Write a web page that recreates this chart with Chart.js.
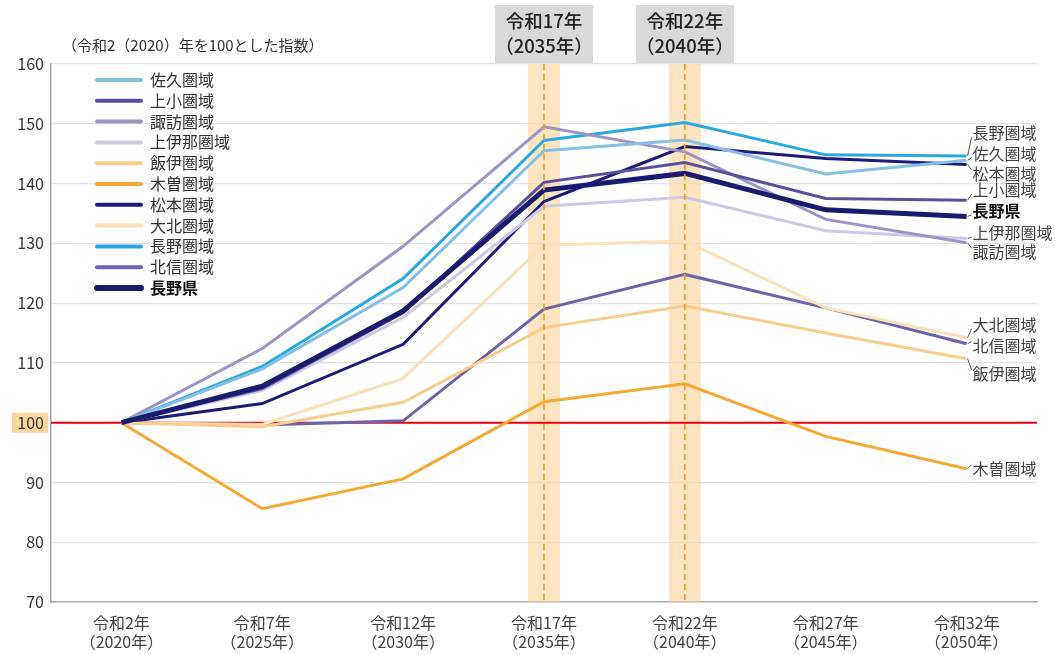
<!DOCTYPE html>
<html>
<head>
<meta charset="utf-8">
<script src="https://cdn.jsdelivr.net/npm/chart.js@4.4.1/dist/chart.umd.min.js"></script>
<style>
  html, body { margin: 0; padding: 0; background: #fff; }
  #wrap { width: 1055px; height: 655px; position: relative; }
</style>
</head>
<body>
<div id="wrap"><canvas id="c" width="1055" height="655"></canvas></div>
<script>
// ---- data ----
const categories = [
  ['令和2年', '（2020年）'],
  ['令和7年', '（2025年）'],
  ['令和12年', '（2030年）'],
  ['令和17年', '（2035年）'],
  ['令和22年', '（2040年）'],
  ['令和27年', '（2045年）'],
  ['令和32年', '（2050年）']
];
const seriesNames = ['佐久圏域','上小圏域','諏訪圏域','上伊那圏域','飯伊圏域','木曽圏域','松本圏域','大北圏域','長野圏域','北信圏域','長野県'];
const saku      = [100, 109.0, 122.6, 145.5, 147.3, 141.6, 143.9];
const joshou    = [100, 105.7, 118.4, 140.2, 143.5, 137.5, 137.2];
const suwa      = [100, 112.4, 129.5, 149.5, 145.3, 134.0, 130.1];
const kamiina   = [100, 105.4, 117.6, 136.2, 137.7, 132.1, 130.8];
const hani      = [100, 99.3, 103.4, 115.9, 119.5, 115.0, 110.7];
const kiso      = [100, 85.6, 90.6, 103.5, 106.5, 97.7, 92.3];
const matsumoto = [100, 103.2, 113.1, 137.0, 146.2, 144.2, 143.2];
const daihoku   = [100, 99.7, 107.4, 129.7, 130.4, 119.2, 114.2];
const naganoArea= [100, 109.4, 124.1, 147.2, 150.2, 144.8, 144.6];
const hokushin  = [100, 99.6, 100.3, 119.0, 124.8, 119.2, 113.2];
const naganoPref= [100, 106.1, 118.7, 138.9, 141.7, 135.6, 134.5];
const yTicks = [70, 80, 90, 100, 110, 120, 130, 140, 150, 160];
const highlightIdx = [3, 4];
const highlightLabels = [['令和17年','（2035年）'], ['令和22年','（2040年）']];
const baseline = 100;
const yTitle = '（令和2（2020）年を100とした指数）';

const seriesValues = [saku, joshou, suwa, kamiina, hani, kiso, matsumoto, daihoku, naganoArea, hokushin, naganoPref];
const colors = ['#84bfe8','#5a4f9c','#9d93c4','#cdc8e4','#fbcd8c','#f5a834','#1c1c78','#fddfb8','#2aa8e0','#6d63a8','#1a1a6e'];
const widths = [3,3,3,3,3,3,3,3,3,3,5];

// label placement for right-end labels (value units)
const endLabelAt = {
  '長野圏域':148.4,'佐久圏域':145.0,'松本圏域':141.6,'上小圏域':138.9,'長野県':135.4,
  '上伊那圏域':131.7,'諏訪圏域':128.5,'大北圏域':116.4,'北信圏域':112.9,'飯伊圏域':108.2,'木曽圏域':92.3
};

const FONT = '"Noto Sans CJK JP", "Noto Sans", sans-serif';

const datasets = seriesNames.map((n, i) => ({
  label: n,
  data: seriesValues[i],
  borderColor: colors[i],
  backgroundColor: colors[i],
  borderWidth: widths[i],
  pointRadius: 0,
  tension: 0,
  order: n === '長野県' ? -1 : i
}));

const decorPlugin = {
  id: 'decor',
  beforeDraw(chart) {
    const ctx = chart.ctx, y = chart.scales.y;
    const py = y.getPixelForValue(baseline);
    ctx.save();
    ctx.fillStyle = '#fbd7a0';
    ctx.fillRect(12, py - 10, 36, 20);
    ctx.restore();
  },
  beforeDatasetsDraw(chart) {
    const ctx = chart.ctx, x = chart.scales.x, y = chart.scales.y, a = chart.chartArea;
    ctx.save();
    highlightIdx.forEach(idx => {
      const px = x.getPixelForValue(idx);
      ctx.fillStyle = 'rgba(252,214,160,0.65)';
      ctx.fillRect(px - 16, a.top, 32, a.bottom - a.top);
    });
    const py = y.getPixelForValue(baseline);
    ctx.strokeStyle = '#e60012';
    ctx.lineWidth = 2;
    ctx.beginPath();
    ctx.moveTo(a.left, py);
    ctx.lineTo(a.right, py);
    ctx.stroke();
    ctx.restore();
  },
  afterDatasetsDraw(chart) {
    const ctx = chart.ctx, x = chart.scales.x, y = chart.scales.y, a = chart.chartArea;
    ctx.save();
    highlightIdx.forEach(idx => {
      const px = x.getPixelForValue(idx);
      ctx.strokeStyle = '#f39a2a';
      ctx.lineWidth = 1.6;
      ctx.setLineDash([6, 4]);
      ctx.beginPath();
      ctx.moveTo(px, a.top);
      ctx.lineTo(px, a.bottom);
      ctx.stroke();
    });
    ctx.setLineDash([]);
    highlightIdx.forEach((idx, k) => {
      const px = x.getPixelForValue(idx);
      ctx.fillStyle = '#d9d9d9';
      ctx.fillRect(px - 49, 5, 98, 58);
      ctx.fillStyle = '#222';
      ctx.font = '500 18.5px ' + FONT;
      ctx.textAlign = 'center';
      ctx.textBaseline = 'middle';
      ctx.fillText(highlightLabels[k][0], px, 21);
      ctx.fillText(highlightLabels[k][1], px, 46);
    });
    ctx.fillStyle = '#333';
    ctx.font = '15px ' + FONT;
    ctx.textAlign = 'left';
    ctx.textBaseline = 'middle';
    ctx.fillText(yTitle, 62, 45);
    seriesNames.forEach((n, i) => {
      const ly = 80 + i * 20.8;
      ctx.strokeStyle = colors[i];
      ctx.lineWidth = n === '長野県' ? 6 : 4;
      ctx.lineCap = 'round';
      ctx.beginPath();
      ctx.moveTo(97, ly);
      ctx.lineTo(141, ly);
      ctx.stroke();
      ctx.fillStyle = n === '長野県' ? '#111' : '#333';
      ctx.font = (n === '長野県' ? 'bold ' : '') + '16px ' + FONT;
      ctx.fillText(n, 150, ly);
    });
    ctx.lineCap = 'butt';
    seriesNames.forEach((n, i) => {
      const meta = chart.getDatasetMeta(i);
      const pt = meta.data[meta.data.length - 1];
      const ly = y.getPixelForValue(endLabelAt[n]);
      const lx = pt.x + 6;
      ctx.strokeStyle = '#555';
      ctx.lineWidth = 1;
      ctx.beginPath();
      ctx.moveTo(pt.x + 1, pt.y);
      ctx.lineTo(lx - 1, ly + (ly < pt.y ? 4 : -4));
      ctx.stroke();
      ctx.fillStyle = n === '長野県' ? '#111' : '#444';
      ctx.font = (n === '長野県' ? 'bold ' : '') + '16px ' + FONT;
      ctx.textAlign = 'left';
      ctx.fillText(n, lx, ly);
    });
    ctx.restore();
  }
};

new Chart(document.getElementById('c'), {
  type: 'line',
  data: { labels: categories, datasets },
  options: {
    responsive: false,
    animation: false,
    events: [],
    layout: { padding: { top: 64, right: 18, left: 0, bottom: 0 } },
    plugins: { legend: { display: false }, tooltip: { enabled: false } },
    scales: {
      x: {
        offset: true,
        grid: { display: false, drawTicks: false },
        border: { display: true, color: '#aaa', width: 1.5 },
        ticks: { color: '#444', font: { family: FONT, size: 16, lineHeight: 1.2 }, padding: 11, maxRotation: 0, autoSkip: false },
        afterFit(s) { s.height = 53; }
      },
      y: {
        min: 70, max: 160,
        afterBuildTicks(s) { s.ticks = yTicks.map(v => ({ value: v })); },
        grid: { color: '#e3e3e3', lineWidth: 1.2, drawTicks: false },
        border: { display: true, color: '#aaa', width: 1.5 },
        ticks: { color: '#333', font: { family: FONT, size: 16 }, padding: 7 },
        afterFit(s) { s.width = 51; }
      }
    }
  },
  plugins: [decorPlugin]
});
</script>
</body>
</html>
